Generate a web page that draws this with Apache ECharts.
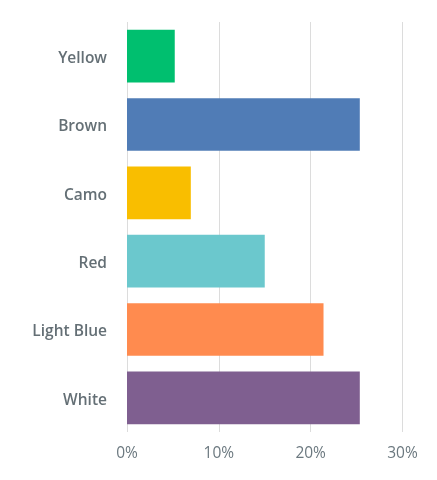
<!DOCTYPE html>
<html>
<head>
<meta charset="utf-8">
<script src="https://cdn.jsdelivr.net/npm/echarts@6/dist/echarts.min.js"></script>
<style>html,body{margin:0;padding:0;background:#fff;}#c{width:437px;height:480px;}</style>
</head>
<body>
<div id="c"></div>
<script>
const categories = ["Yellow", "Brown", "Camo", "Red", "Light Blue", "White"];
const values = [5.2, 25.35, 6.95, 15.0, 21.4, 25.35];
const colors = ["#00bf6f", "#507cb6", "#f9be00", "#6bc8cd", "#ff8b4f", "#7f5f90"];
const xTicks = [0, 10, 20, 30];

const chart = echarts.init(document.getElementById('c'), null, {renderer: 'canvas'});
chart.setOption({
  animation: false,
  grid: {left: 127, right: 34.5, top: 22, bottom: 48, containLabel: false},
  xAxis: {
    type: 'value', min: xTicks[0], max: xTicks[xTicks.length - 1], interval: 10,
    axisLine: {show: false}, axisTick: {show: false},
    splitLine: {show: true, lineStyle: {color: '#dcdcdc', width: 1}},
    axisLabel: {formatter: '{value}%', color: '#6b787f', fontSize: 15.5, fontFamily: 'Open Sans', margin: 14}
  },
  yAxis: {
    type: 'category', data: categories, inverse: true,
    axisLine: {show: false}, axisTick: {show: false}, splitLine: {show: false},
    axisLabel: {color: '#646f75', fontSize: 15.5, fontWeight: 600, fontFamily: 'Open Sans', margin: 20, verticalAlign: 'top', lineHeight: 5}
  },
  series: [{
    type: 'bar', barCategoryGap: '23%',
    data: values.map((v, i) => ({value: v, itemStyle: {color: colors[i]}}))
  }]
});
</script>
</body>
</html>
